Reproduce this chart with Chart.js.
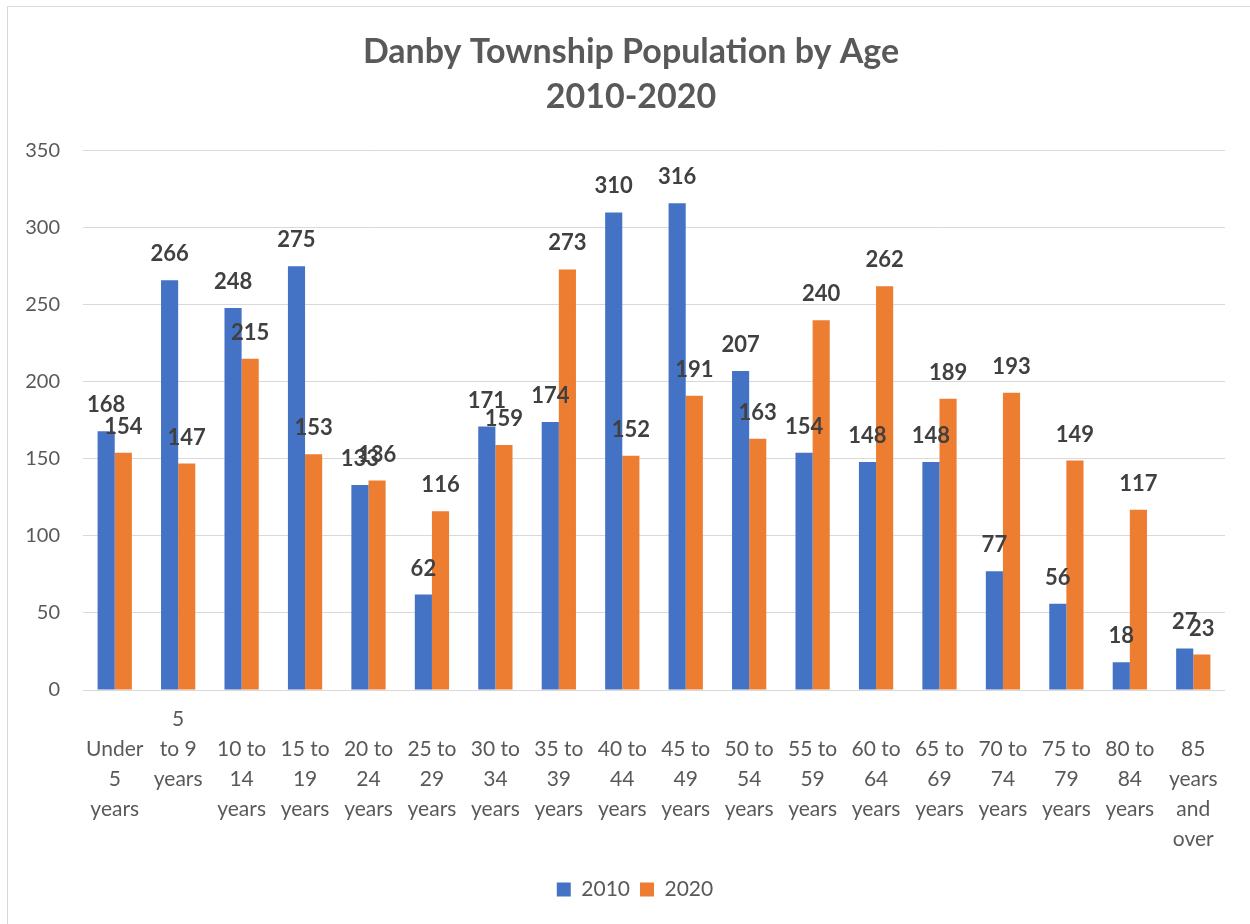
<!DOCTYPE html>
<html><head><meta charset="utf-8">
<script src="https://cdn.jsdelivr.net/npm/chart.js@4.4.0/dist/chart.umd.min.js"></script>
<style>
html,body{margin:0;padding:0;background:#fff;overflow:hidden;}
#frame{position:absolute;left:7px;top:6px;width:1270px;height:940px;border:1px solid #D9D9D9;box-sizing:border-box;}
#wrap{position:absolute;left:0;top:0;width:1250px;height:924px;}
</style></head><body>
<div id="frame"></div>
<div id="wrap"><canvas id="c" width="1250" height="924"></canvas></div>
<script>
const categories = ["Under 5 years","5 to 9 years","10 to 14 years","15 to 19 years","20 to 24 years","25 to 29 years","30 to 34 years","35 to 39 years","40 to 44 years","45 to 49 years","50 to 54 years","55 to 59 years","60 to 64 years","65 to 69 years","70 to 74 years","75 to 79 years","80 to 84 years","85 years and over"];
const tickLines = [["Under","5","years"],["5","to 9","years"],["10 to","14","years"],["15 to","19","years"],["20 to","24","years"],["25 to","29","years"],["30 to","34","years"],["35 to","39","years"],["40 to","44","years"],["45 to","49","years"],["50 to","54","years"],["55 to","59","years"],["60 to","64","years"],["65 to","69","years"],["70 to","74","years"],["75 to","79","years"],["80 to","84","years"],["85","years","and","over"]];
const values2010 = [168,266,248,275,133,62,171,174,310,316,207,154,148,148,77,56,18,27];
const values2020 = [154,147,215,153,136,116,159,273,152,191,163,240,262,189,193,149,117,23];
const seriesNames = ["2010","2020"];
const titleLines = ["Danby Township Population by Age","2010-2020"];
const yMin = 0, yMax = 350, yStep = 50;

const FONT = "Lato, 'Open Sans', sans-serif";

const valueLabels = {
  id: 'valueLabels',
  afterDatasetsDraw(chart) {
    const ctx = chart.ctx;
    ctx.save();
    ctx.font = "bold 22px " + FONT;
    ctx.fillStyle = "#404040";
    ctx.textAlign = "center";
    ctx.textBaseline = "middle";
    chart.data.datasets.forEach((ds, di) => {
      const meta = chart.getDatasetMeta(di);
      meta.data.forEach((el, i) => {
        ctx.fillText(String(ds.data[i]), el.x, el.y - 26);
      });
    });
    ctx.restore();
  }
};

const xLabels = {
  id: 'xLabels',
  afterDraw(chart) {
    const ctx = chart.ctx;
    const xs = chart.scales.x;
    const base = chart.chartArea.bottom;
    ctx.save();
    ctx.font = "21px " + FONT;
    ctx.fillStyle = "#595959";
    ctx.textAlign = "center";
    ctx.textBaseline = "middle";
    tickLines.forEach((lines, i) => {
      const x = xs.getPixelForValue(i);
      const start = base + 59 - (i === 1 ? 30 : 0);
      lines.forEach((t, k) => ctx.fillText(t, x, start + k * 30));
    });
    ctx.restore();
  }
};

// Centre title and legend on the outer chart frame rather than the plot box
const recenter = {
  id: 'recenter',
  afterLayout(chart) {
    if (chart.titleBlock) chart.titleBlock.left += 37;
    if (chart.legend) chart.legend.left += 45;
  }
};

new Chart(document.getElementById('c'), {
  type: 'bar',
  data: {
    labels: categories,
    datasets: [
      { label: seriesNames[0], data: values2010, backgroundColor: '#4472C4', barPercentage: 1.0, categoryPercentage: 0.54 },
      { label: seriesNames[1], data: values2020, backgroundColor: '#ED7D31', barPercentage: 1.0, categoryPercentage: 0.54 }
    ]
  },
  options: {
    responsive: false,
    devicePixelRatio: 1,
    animation: false,
    layout: { padding: { left: 0, right: 25, top: 0, bottom: 14 } },
    plugins: {
      title: {
        display: true,
        text: titleLines,
        color: '#595959',
        font: { family: FONT, size: 34, weight: 'bold', lineHeight: 1.32 },
        padding: { top: 30, bottom: 31 }
      },
      legend: {
        position: 'bottom',
        labels: {
          color: '#595959',
          font: { family: FONT, size: 21 },
          boxWidth: 14, boxHeight: 14, padding: 10
        }
      },
      tooltip: { enabled: false }
    },
    scales: {
      x: {
        grid: { display: false },
        border: { display: false },
        ticks: { display: false },
        afterFit(scale) { scale.height = 179; }
      },
      y: {
        min: yMin, max: yMax,
        ticks: { stepSize: yStep, color: '#595959', font: { family: FONT, size: 20 }, padding: 23 },
        grid: { color: '#D9D9D9', lineWidth: 1, drawTicks: false },
        border: { display: false },
        afterFit(scale) { scale.width = 83; }
      }
    }
  },
  plugins: [valueLabels, xLabels, recenter]
});
</script>
</body></html>
